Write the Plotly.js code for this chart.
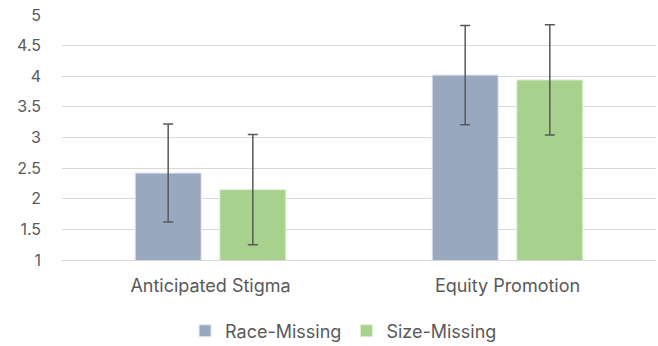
<!DOCTYPE html>
<html>
<head>
<meta charset="utf-8">
<script src="https://cdn.plot.ly/plotly-3.0.1.min.js"></script>
<style>html,body{margin:0;padding:0;background:#fff;overflow:hidden;}#chart{width:658px;height:346px;}</style>
</head>
<body>
<div id="chart"></div>
<script>
const categories = ["Anticipated Stigma", "Equity Promotion"];
const raceMissing = [2.42, 4.02];
const raceMissingErr = [0.80, 0.81];
const sizeMissing = [2.15, 3.94];
const sizeMissingErr = [0.90, 0.90];
const yTicks = [1, 1.5, 2, 2.5, 3, 3.5, 4, 4.5, 5];

const errStyle = {color: "#595959", thickness: 1.5, width: 5};
const traces = [
  {type: "bar", name: "Race-Missing", x: categories, y: raceMissing,
   marker: {color: "#98A8BF", line: {color: "#E6E9EE", width: 1}},
   error_y: Object.assign({type: "data", array: raceMissingErr, visible: true}, errStyle)},
  {type: "bar", name: "Size-Missing", x: categories, y: sizeMissing,
   marker: {color: "#A8D18D", line: {color: "#E3F0DA", width: 1}},
   error_y: Object.assign({type: "data", array: sizeMissingErr, visible: true}, errStyle)}
];
const layout = {
  width: 658, height: 346,
  margin: {l: 62, r: 2, t: 15, b: 86, autoexpand: false},
  paper_bgcolor: "#fff", plot_bgcolor: "#fff",
  font: {family: "Inter, sans-serif", size: 18, color: "#595959"},
  barmode: "group", bargap: 0.43, bargroupgap: 0.22,
  showlegend: true,
  legend: {orientation: "h", x: 0.474, xanchor: "center", y: -0.29, yanchor: "middle",
           font: {size: 18, color: "#595959"}, itemwidth: 30, traceorder: "normal"},
  xaxis: {range: [-0.5, 1.5], automargin: false, showgrid: false, showline: true,
          linecolor: "#D9D9D9", linewidth: 1,
          ticks: "", ticklabelstandoff: 9, tickfont: {size: 18, color: "#595959"}},
  yaxis: {range: [1, 5], automargin: false, tickvals: yTicks, ticktext: yTicks.map(String),
          showgrid: true, gridcolor: "#D9D9D9", gridwidth: 1, zeroline: false,
          showline: false, ticks: "", ticklabelstandoff: 20,
          tickfont: {size: 16, color: "#595959"}}
};
Plotly.newPlot("chart", traces, layout, {displayModeBar: false, staticPlot: true});
</script>
</body>
</html>
